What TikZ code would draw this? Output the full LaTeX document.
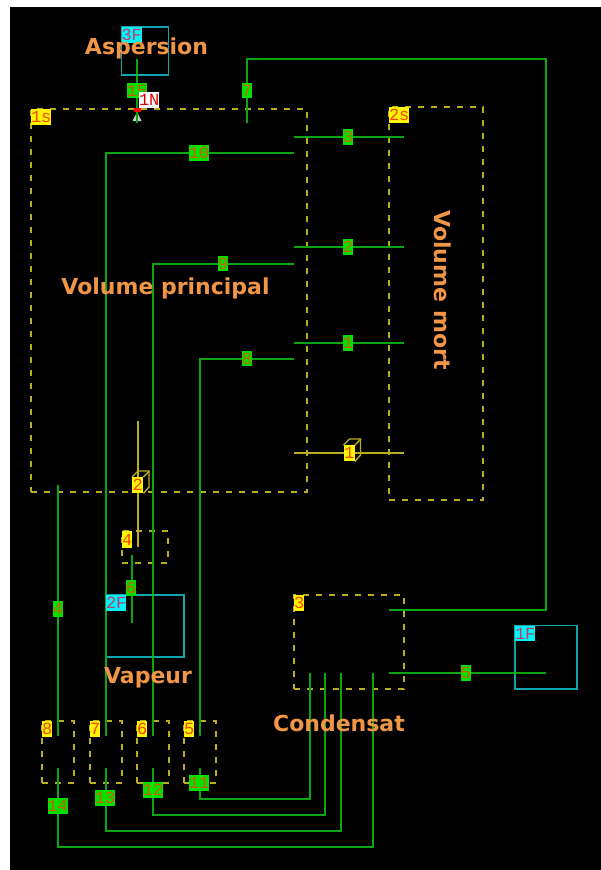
\documentclass[tikz,border=0pt]{standalone}
\usepackage{fontspec}
\setmainfont{DejaVu Sans}
\setmonofont{Liberation Mono}
\usetikzlibrary{positioning}
\definecolor{PipeGreen}{RGB}{10,165,15}
\definecolor{VolYellow}{RGB}{185,175,30}
\definecolor{BoundTeal}{RGB}{15,165,170}
\definecolor{TagYellow}{RGB}{255,245,0}
\definecolor{TagGreen}{RGB}{0,225,0}
\definecolor{TagCyan}{RGB}{0,245,250}
\definecolor{TitleOrange}{RGB}{240,150,70}
\definecolor{PipeText}{RGB}{205,95,0}
\definecolor{BoundText}{RGB}{190,60,110}
\definecolor{VolText}{RGB}{245,70,0}
\tikzset{
  volume/.style={draw=VolYellow,line width=1.5pt,dash pattern=on 6pt off 7pt,
    anchor=north west,inner sep=0pt,outer sep=0pt},
  bound/.style={draw=BoundTeal,line width=1.5pt,anchor=north west,inner sep=0pt,outer sep=0pt},
  pipe/.style={draw=PipeGreen,line width=1.4pt},
  valve/.style={draw=VolYellow,line width=1.4pt},
  tag/.style={inner sep=0pt,minimum height=15.5pt,font=\ttfamily\fontsize{17}{17}\selectfont,
    anchor=north west},
  voltag/.style={tag,fill=TagYellow,text=VolText},
  pipetag/.style={inner sep=0pt,minimum height=15.5pt,fill=TagGreen,text=PipeText,
    font=\ttfamily\fontsize{17}{17}\selectfont},
  boundtag/.style={tag,fill=TagCyan,text=BoundText},
  title/.style={text=TitleOrange,font=\bfseries\fontsize{22}{22}\selectfont,inner sep=0pt}
}
\newcommand{\wide}[2]{\makebox[10pt]{#1}\makebox[10pt]{#2}}
\begin{document}
\begin{tikzpicture}[x=1pt,y=-1pt]
  \useasboundingbox (0,0) rectangle (601,870);
  \fill[white] (0,0) rectangle (601,870);
  \fill[black] (10,7) rectangle (601,870);
  % volumes
  \node[volume,minimum width=276pt,minimum height=383pt] (vp) at (31,109) {};
  \node[volume,minimum width=94pt,minimum height=393pt] (vm) at (389,107) {};
  \node[volume,minimum width=46pt,minimum height=32pt] (v4) at (122,531) {};
  \node[volume,minimum width=110pt,minimum height=94pt] (v3) at (294,595) {};
  \node[volume,minimum width=32pt,minimum height=62pt] (v8) at (42,721) {};
  \node[volume,minimum width=32pt,minimum height=62pt] (v7) at (90,721) {};
  \node[volume,minimum width=32pt,minimum height=62pt] (v6) at (137,721) {};
  \node[volume,minimum width=32pt,minimum height=62pt] (v5) at (184,721) {};
  % boundaries
  \node[bound,minimum width=47pt,minimum height=48pt] (b3) at (121.5,27) {};
  \node[bound,minimum width=78pt,minimum height=62pt] (b2) at (106,595) {};
  \node[bound,minimum width=62pt,minimum height=63.5pt] (b1) at (515,625.5) {};
  % pipe ends
  \coordinate (p15a) at (137,59);
  \coordinate (p15b) at (137,123);
  \coordinate (p7a) at (247,123);
  \coordinate (p7b) at (546,59);
  \coordinate (p7c) at (389,610);
  \coordinate (p10a) at (294,153);
  \coordinate (p10b) at (106,736);
  \coordinate (p9a) at (294,264);
  \coordinate (p9b) at (153,736);
  \coordinate (p8a) at (294,359);
  \coordinate (p8b) at (200,736);
  \coordinate (p4a) at (58,485);
  \coordinate (p4b) at (58,736);
  \coordinate (p6a) at (132,555);
  \coordinate (p6b) at (132,623);
  \coordinate (p3a) at (294,137);
  \coordinate (p3b) at (404,137);
  \coordinate (p2a) at (294,247);
  \coordinate (p2b) at (404,247);
  \coordinate (p1a) at (294,343);
  \coordinate (p1b) at (404,343);
  \coordinate (p5a) at (389,673);
  \coordinate (p5b) at (546,673);
  \coordinate (p11a) at (200,768);
  \coordinate (p11b) at (310,673);
  \coordinate (p12a) at (153,768);
  \coordinate (p12b) at (325,673);
  \coordinate (p13a) at (106,768);
  \coordinate (p13b) at (341,673);
  \coordinate (p14a) at (58,768);
  \coordinate (p14b) at (373,673);
  \coordinate (k1a) at (294,453);
  \coordinate (k1b) at (404,453);
  \coordinate (k2a) at (138,421);
  \coordinate (k2b) at (138,547);
  % pipes
  \draw[pipe] (p15a) -- (p15b);
  \draw[pipe] (p7a) |- (p7b) |- (p7c);
  \draw[pipe] (p10a) -| (p10b);
  \draw[pipe] (p9a) -| (p9b);
  \draw[pipe] (p8a) -| (p8b);
  \draw[pipe] (p4a) -- (p4b);
  \draw[pipe] (p6a) -- (p6b);
  \draw[pipe] (p3a) -- (p3b);
  \draw[pipe] (p2a) -- (p2b);
  \draw[pipe] (p1a) -- (p1b);
  \draw[pipe] (p5a) -- (p5b);
  \draw[pipe] (p11a) |- (310,799) -- (p11b);
  \draw[pipe] (p12a) |- (325,815) -- (p12b);
  \draw[pipe] (p13a) |- (341,831) -- (p13b);
  \draw[pipe] (p14a) |- (373,847) -- (p14b);
  \draw[valve] (k1a) -- (k1b);
  \draw[valve] (k2a) -- (k2b);
  % volume tags
  \node[voltag,minimum width=20pt] (l1s) at (31,109) {\wide{1}{s}};
  \node[voltag,minimum width=20pt] (l2s) at (389,107) {\wide{2}{s}};
  \node[voltag,minimum width=10pt,minimum height=17pt] (l4) at (122,531) {4};
  \node[voltag,minimum width=10pt] (l3) at (294,595) {3};
  \node[voltag,minimum width=10pt] (l8) at (42,721) {8};
  \node[voltag,minimum width=10pt] (l7) at (90,721) {7};
  \node[voltag,minimum width=10pt] (l6) at (137,721) {6};
  \node[voltag,minimum width=10pt] (l5) at (184,721) {5};
  % boundary tags
  \node[boundtag,minimum width=20pt] (l3F) at (121.5,27) {\wide{3}{F}};
  \node[boundtag,minimum width=20pt] (l2F) at (106,595) {\wide{2}{F}};
  \node[boundtag,minimum width=20pt] (l1F) at (515,625.5) {\wide{1}{F}};
  % pipe tags
  \node[pipetag,minimum width=20pt] (t15) at (137,90.5) {\wide{1}{5}};
  \node[pipetag,minimum width=10pt] (t7) at (247,90.5) {7};
  \node[pipetag,minimum width=20pt] (t10) at (199,153) {\wide{1}{0}};
  \node[pipetag,minimum width=10pt] (t9) at (223,263.5) {9};
  \node[pipetag,minimum width=10pt] (t8) at (247,358.5) {8};
  \node[pipetag,minimum width=10pt] (t3) at (348,137) {3};
  \node[pipetag,minimum width=10pt] (t2) at (348,247) {2};
  \node[pipetag,minimum width=10pt] (t1) at (348,343) {1};
  \node[pipetag,minimum width=10pt] (t4) at (58,609) {4};
  \node[pipetag,minimum width=10pt] (t6) at (131,588) {6};
  \node[pipetag,minimum width=10pt] (t5) at (466,673) {5};
  \node[pipetag,minimum width=20pt] (t11) at (199,783) {\wide{1}{1}};
  \node[pipetag,minimum width=20pt] (t12) at (153,790) {\wide{1}{2}};
  \node[pipetag,minimum width=20pt] (t13) at (105,798) {\wide{1}{3}};
  \node[pipetag,minimum width=20pt] (t14) at (57.5,806) {\wide{1}{4}};
  % valves
  \node[voltag,minimum width=11pt,minimum height=16pt] (q1) at (343.5,445) {1};
  \node[voltag,minimum width=11pt,minimum height=16pt] (q2) at (132,477) {2};
  \draw[valve] (q1.north west) -- ++(6,-6) -- ++(11,0) -- ++(0,16) -- (q1.south east);
  \draw[valve] (q1.north east) -- ++(6,-6);
  \draw[valve] (q2.north west) -- ++(6,-6) -- ++(11,0) -- ++(0,16) -- (q2.south east);
  \draw[valve] (q2.north east) -- ++(6,-6);
  % nozzle
  \fill[white!80!black] (132.5,121) -- (137,112) -- (141.5,121) -- cycle;
  \draw[pipe] (137,112) -- (p15b);
  \node[fill=red,inner sep=0pt,minimum width=7pt,minimum height=4pt] (n1) at (137,110) {};
  \node[fill=white,text=red!85!black,inner sep=0pt,minimum width=20pt,minimum height=15.5pt,
    anchor=north west,font=\ttfamily\fontsize{17}{17}\selectfont] (l1N) at (139,92) {\wide{1}{N}};
  % titles
  \node[title] (taspersion) at (146.5,48) {Aspersion};
  \node[title] (tprincipal) at (165.5,288.5) {Volume principal};
  \node[title,rotate=-90] (tmort) at (443,290) {Volume mort};
  \node[title] (tvapeur) at (148,678) {Vapeur};
  \node[title] (tcondensat) at (339,723) {Condensat};
\end{tikzpicture}
\end{document}
